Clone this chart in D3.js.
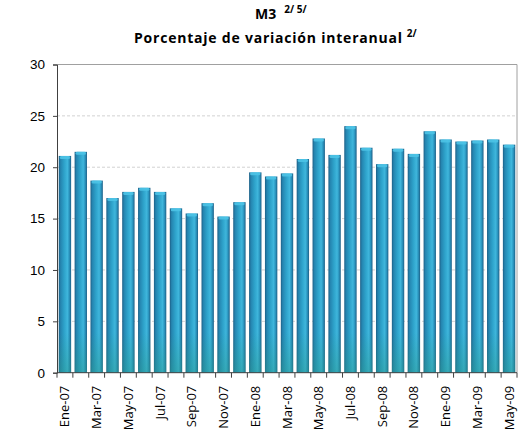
<!DOCTYPE html>
<html><head><meta charset="utf-8">
<script src="https://cdn.jsdelivr.net/npm/d3@7"></script>
<style>body{margin:0;background:#fff}svg{display:block}</style>
</head><body>
<script>
const months = ["Ene-07","Feb-07","Mar-07","Abr-07","May-07","Jun-07","Jul-07","Ago-07","Sep-07","Oct-07","Nov-07","Dic-07",
"Ene-08","Feb-08","Mar-08","Abr-08","May-08","Jun-08","Jul-08","Ago-08","Sep-08","Oct-08","Nov-08","Dic-08",
"Ene-09","Feb-09","Mar-09","Abr-09","May-09"];
const values = [21.1,21.5,18.7,17.0,17.6,18.0,17.6,16.0,15.5,16.5,15.2,16.6,
19.5,19.1,19.4,20.8,22.8,21.2,24.0,21.9,20.3,21.8,21.3,23.5,22.7,22.5,22.6,22.7,22.2];
const yTicks = [0,5,10,15,20,25,30];
const title1 = "M3", title1sup = "2/ 5/";
const title2 = "Porcentaje de variación interanual", title2sup = "2/";

const W=518,H=441, L=57, R=517, T=64.5, B=372.7;
const svg = d3.select("body").append("svg").attr("width",W).attr("height",H)
  .style("font-family","'Open Sans', sans-serif");

const defs = svg.append("defs");
const g = defs.append("linearGradient").attr("id","bar").attr("x1","0").attr("x2","1").attr("y1","0").attr("y2","0");
[[0,"#1d5f86"],[0.15,"#2585b0"],[0.45,"#2ea3cb"],[0.7,"#3fb6dc"],[0.85,"#2b95bf"],[1,"#1d5f86"]]
  .forEach(([o,c])=>g.append("stop").attr("offset",o).attr("stop-color",c));
const gb = defs.append("linearGradient").attr("id","bot").attr("x1","0").attr("x2","0").attr("y1","0").attr("y2","1");
gb.append("stop").attr("offset",0).attr("stop-color","#2a9a8a").attr("stop-opacity",0);
gb.append("stop").attr("offset",1).attr("stop-color","#2a9a8a").attr("stop-opacity",0.45);

const x = d3.scaleBand().domain(months).range([L,R]).paddingInner(0.22).paddingOuter(0.11);
const y = d3.scaleLinear().domain([0,30]).range([B,T]);

// gridlines
svg.append("g").selectAll("line").data(yTicks.filter(d=>d>0&&d<30)).join("line")
  .attr("x1",L).attr("x2",R).attr("y1",d=>y(d)).attr("y2",d=>y(d))
  .attr("stroke","#c8c8c8").attr("stroke-dasharray","3,2").attr("stroke-width",0.8);
// top & right border
svg.append("path").attr("d",`M${L},${y(30)}H${R}V${B}`).attr("fill","none").attr("stroke","#a0a0a0").attr("stroke-width",1);

// bars
const bars = svg.append("g");
bars.selectAll("rect.b").data(values).join("rect").attr("class","b")
  .attr("x",(d,i)=>x(months[i])).attr("width",x.bandwidth())
  .attr("y",d=>y(d)).attr("height",d=>B-y(d)).attr("fill","url(#bar)");
bars.selectAll("rect.g").data(values).join("rect").attr("class","g")
  .attr("x",(d,i)=>x(months[i])).attr("width",x.bandwidth())
  .attr("y",B-40).attr("height",40).attr("fill","url(#bot)");
bars.selectAll("rect.c").data(values).join("rect").attr("class","c")
  .attr("x",(d,i)=>x(months[i])+1).attr("width",x.bandwidth()-2)
  .attr("y",d=>y(d)).attr("height",3).attr("rx",1.5).attr("fill","#4cc3e6").attr("opacity",0.9);

// y axis
const ya = svg.append("g").attr("transform",`translate(${L},0)`)
  .call(d3.axisLeft(y).tickValues(yTicks).tickSize(4).tickPadding(8));
ya.select(".domain").attr("stroke","#404040");
ya.selectAll(".tick line").attr("stroke","#404040");
ya.selectAll("text").attr("font-size",13.5).attr("fill","#000");

// x axis
const xa = svg.append("g").attr("transform",`translate(0,${B})`);
xa.append("line").attr("x1",L).attr("x2",R).attr("y1",0).attr("y2",0).attr("stroke","#404040");
xa.selectAll("line.t").data(d3.range(months.length+1)).join("line").attr("class","t")
  .attr("x1",i=>L+(R-L)*i/months.length).attr("x2",i=>L+(R-L)*i/months.length)
  .attr("y1",0).attr("y2",5).attr("stroke","#404040");
xa.selectAll("text").data(months.filter((m,i)=>i%2===0)).join("text")
  .attr("transform",m=>`translate(${x(m)+x.bandwidth()/2+4.5},${13}) rotate(-90)`)
  .attr("text-anchor","end").attr("font-size",13).attr("fill","#000").text(d=>d);

// titles
const t1 = svg.append("text").attr("x",255).attr("y",19).attr("font-weight","bold").attr("font-size",14);
t1.append("tspan").text(title1);
t1.append("tspan").attr("dx",8).attr("dy",-6).attr("font-size",10).text(title1sup);
const t2 = svg.append("text").attr("x",134).attr("y",43).attr("font-weight","bold").attr("font-size",14);
t2.append("tspan").attr("textLength",268).attr("lengthAdjust","spacing").text(title2);
t2.append("tspan").attr("dx",4).attr("dy",-6).attr("font-size",10).text(title2sup);
</script>
</body></html>
